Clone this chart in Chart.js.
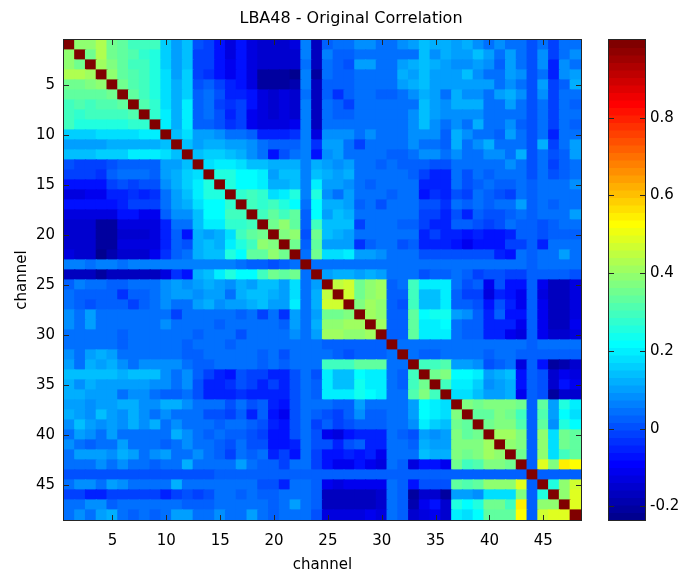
<!DOCTYPE html>
<html>
<head>
<meta charset="utf-8">
<title>LBA48 - Original Correlation</title>
<script src="https://cdn.jsdelivr.net/npm/chart.js@4.4.1/dist/chart.umd.min.js"></script>
<style>
  body { margin: 0; background: #fff; }
  #wrap { position: relative; width: 681px; height: 572px; background: #fff; }
  #wrap canvas { position: absolute; top: 0; }
</style>
</head>
<body>
<div id="wrap">
  <canvas id="heat" width="600" height="572" style="left:0"></canvas>
  <canvas id="bar" width="81" height="572" style="left:600px"></canvas>
</div>
<script>
// correlation between the 48 channels, lower triangle only (row i holds columns 1..i-1),
// the matrix is symmetric and the diagonal is 1
var corrLower = [
  [],
  [0.40],
  [0.40, 0.36],
  [0.43, 0.43, 0.42],
  [0.36, 0.36, 0.38, 0.40],
  [0.33, 0.34, 0.33, 0.34, 0.35],
  [0.30, 0.31, 0.30, 0.31, 0.32, 0.33],
  [0.29, 0.28, 0.29, 0.30, 0.30, 0.30, 0.31],
  [0.30, 0.26, 0.25, 0.26, 0.25, 0.26, 0.27, 0.28],
  [0.17, 0.17, 0.17, 0.18, 0.18, 0.18, 0.18, 0.20, 0.20],
  [0.10, 0.10, 0.10, 0.10, 0.12, 0.12, 0.12, 0.12, 0.12, 0.15],
  [0.15, 0.15, 0.15, 0.17, 0.17, 0.17, 0.20, 0.20, 0.20, 0.18, 0.15],
  [0.00, -0.02, -0.02, -0.02, 0.00, 0.03, 0.03, 0.03, 0.03, 0.10, 0.10, 0.15],
  [-0.02, -0.02, -0.02, -0.03, 0.03, 0.05, 0.05, 0.05, 0.03, 0.10, 0.12, 0.17, 0.18],
  [-0.08, -0.08, -0.08, -0.07, -0.02, 0.00, -0.02, 0.00, 0.00, 0.08, 0.12, 0.17, 0.20, 0.25],
  [-0.12, -0.12, -0.10, -0.10, -0.05, -0.05, -0.03, -0.05, -0.03, 0.05, 0.10, 0.15, 0.20, 0.25, 0.25],
  [-0.08, -0.08, -0.08, -0.08, -0.08, -0.06, -0.02, -0.02, -0.02, 0.05, 0.10, 0.13, 0.18, 0.22, 0.22, 0.28],
  [-0.13, -0.13, -0.12, -0.12, -0.12, -0.08, -0.08, -0.10, -0.10, 0.02, 0.08, 0.08, 0.15, 0.22, 0.22, 0.30, 0.30],
  [-0.15, -0.15, -0.15, -0.20, -0.20, -0.13, -0.13, -0.13, -0.13, -0.05, 0.05, 0.05, 0.15, 0.20, 0.20, 0.28, 0.28, 0.30],
  [-0.15, -0.15, -0.15, -0.20, -0.20, -0.15, -0.15, -0.15, -0.12, -0.05, 0.02, -0.08, 0.12, 0.10, 0.12, 0.18, 0.30, 0.33, 0.36],
  [-0.15, -0.15, -0.15, -0.20, -0.20, -0.13, -0.13, -0.13, -0.13, -0.05, 0.02, 0.00, 0.12, 0.14, 0.12, 0.20, 0.25, 0.30, 0.40, 0.37],
  [-0.13, -0.15, -0.15, -0.22, -0.18, -0.15, -0.15, -0.15, -0.10, -0.03, 0.03, 0.05, 0.12, 0.15, 0.15, 0.25, 0.22, 0.34, 0.34, 0.40, 0.36],
  [0.06, 0.06, 0.05, 0.06, 0.06, 0.05, 0.06, 0.06, 0.06, 0.07, 0.06, 0.06, 0.06, 0.07, 0.06, 0.06, 0.05, 0.02, 0.02, 0.00, 0.02, 0.05],
  [-0.17, -0.17, -0.17, -0.20, -0.17, -0.17, -0.17, -0.17, -0.17, -0.13, -0.03, -0.08, 0.12, 0.15, 0.20, 0.25, 0.22, 0.22, 0.30, 0.36, 0.33, 0.36, 0.05],
  [0.03, 0.07, 0.05, 0.05, 0.03, 0.03, 0.05, 0.05, 0.05, 0.08, 0.10, 0.08, 0.10, 0.12, 0.10, 0.08, 0.12, 0.10, 0.15, 0.15, 0.10, 0.18, 0.05, 0.10],
  [0.05, 0.02, 0.02, 0.02, 0.03, -0.03, 0.02, 0.03, 0.05, 0.08, 0.10, 0.10, 0.08, 0.10, 0.10, 0.05, 0.12, 0.14, 0.14, 0.12, 0.10, 0.18, 0.05, 0.12, 0.45],
  [0.05, 0.02, 0.00, 0.02, 0.02, 0.02, -0.02, 0.02, 0.05, 0.08, 0.05, 0.05, 0.10, 0.12, 0.08, 0.10, 0.10, 0.12, 0.14, 0.10, 0.10, 0.20, 0.05, 0.12, 0.47, 0.47],
  [0.08, 0.05, 0.10, 0.05, 0.05, 0.05, 0.05, 0.05, 0.05, 0.05, -0.02, 0.05, 0.05, 0.05, 0.05, 0.05, 0.03, 0.05, -0.02, 0.05, -0.03, 0.10, 0.05, 0.10, 0.35, 0.35, 0.38],
  [0.08, 0.05, 0.10, 0.05, 0.05, 0.05, 0.05, 0.05, 0.05, 0.08, 0.05, 0.05, 0.05, 0.05, 0.03, 0.05, 0.05, 0.05, 0.05, 0.05, 0.02, 0.10, 0.05, 0.12, 0.40, 0.40, 0.42, 0.42],
  [0.05, 0.05, 0.05, 0.05, 0.05, 0.03, 0.05, 0.05, 0.05, 0.05, 0.05, 0.05, 0.03, 0.05, 0.05, 0.05, 0.00, 0.05, 0.05, 0.05, 0.05, 0.08, 0.05, 0.10, 0.42, 0.42, 0.40, 0.40, 0.42],
  [0.05, 0.05, 0.05, 0.05, 0.05, 0.03, 0.05, 0.05, 0.05, 0.05, 0.05, 0.02, 0.05, 0.05, 0.05, 0.03, 0.05, 0.05, 0.05, 0.05, 0.05, 0.05, 0.05, 0.05, 0.03, 0.03, 0.03, 0.03, 0.03, 0.03],
  [0.08, 0.05, 0.10, 0.12, 0.10, 0.05, 0.05, 0.05, 0.05, 0.05, 0.05, 0.02, 0.03, 0.05, 0.05, 0.05, 0.05, 0.05, 0.02, 0.05, 0.00, 0.05, 0.05, 0.05, 0.05, 0.03, 0.00, 0.02, 0.02, 0.02, 0.05],
  [0.10, 0.05, 0.12, 0.10, 0.12, 0.08, 0.05, 0.08, 0.08, 0.08, 0.08, 0.05, 0.03, 0.03, 0.05, 0.05,
   0.05, 0.05, 0.02, 0.05, 0.02, 0.05, 0.05, 0.05, 0.30, 0.30, 0.30, 0.33, 0.33, 0.33, 0.05, 0.05],
  [0.15, 0.15, 0.15, 0.15, 0.15, 0.12, 0.15, 0.15, 0.15, 0.08, 0.05, 0.08, 0.02, -0.02, -0.05, -0.08,
   0.00, -0.02, -0.02, -0.05, -0.05, 0.00, 0.05, 0.00, 0.20, 0.15, 0.15, 0.22, 0.20, 0.20, 0.05, 0.02,
   0.30],
  [0.12, 0.08, 0.12, 0.10, 0.10, 0.10, 0.10, 0.10, 0.08, 0.08, 0.05, 0.08, 0.00, -0.05, -0.05, -0.03,
   0.00, -0.02, -0.05, -0.02, -0.05, 0.00, 0.05, 0.02, 0.20, 0.15, 0.15, 0.23, 0.20, 0.20, 0.05, 0.02,
   0.30, 0.35],
  [0.12, 0.12, 0.10, 0.10, 0.10, 0.05, 0.08, 0.08, 0.05, 0.02, 0.02, 0.05, 0.00, -0.05, -0.05, -0.05,
   -0.03, -0.05, -0.05, -0.05, -0.05, 0.00, 0.05, 0.02, 0.20, 0.20, 0.20, 0.23, 0.22, 0.20, 0.05, 0.05,
   0.32, 0.38, 0.30],
  [0.10, 0.10, 0.08, 0.10, 0.10, 0.12, 0.12, 0.08, 0.08, 0.12, 0.12, 0.08, 0.05, 0.05, 0.05, 0.00,
   0.05, 0.00, 0.02, -0.05, -0.08, 0.00, 0.05, 0.05, 0.05, 0.02, 0.02, 0.10, 0.05, 0.05, 0.05, 0.05,
   0.10, 0.22, 0.20, 0.18],
  [0.12, 0.10, 0.08, 0.15, 0.10, 0.08, 0.12, 0.08, 0.05, 0.08, 0.05, 0.05, 0.05, 0.00, 0.00, -0.02,
   0.02, -0.05, 0.02, -0.08, -0.10, 0.00, 0.05, 0.02, 0.00, -0.02, 0.02, 0.08, 0.02, 0.02, 0.05, 0.05,
   0.10, 0.22, 0.20, 0.18, 0.37],
  [0.08, 0.14, 0.10, 0.08, 0.10, 0.08, 0.12, 0.08, 0.12, 0.05, 0.08, 0.05, 0.05, 0.05, 0.02, 0.05,
   0.05, 0.02, 0.00, -0.05, -0.08, 0.00, 0.05, -0.02, 0.02, -0.02, 0.00, 0.02, 0.02, 0.02, 0.05, 0.05,
   0.08, 0.20, 0.17, 0.14, 0.35, 0.33],
  [0.05, 0.10, 0.08, 0.05, 0.10, 0.05, 0.05, 0.05, 0.05, 0.05, 0.12, 0.08, 0.05, 0.02, 0.05, 0.02,
   0.02, 0.00, -0.02, -0.08, -0.08, 0.00, 0.05, 0.00, -0.10, -0.12, -0.08, -0.05, -0.05, -0.05, 0.05, 0.02,
   0.00, 0.10, 0.08, 0.10, 0.37, 0.33, 0.35],
  [0.08, 0.05, 0.02, 0.05, 0.05, 0.10, 0.05, 0.05, 0.05, 0.02, 0.05, 0.08, 0.05, 0.05, 0.02, 0.00,
   0.05, 0.00, 0.00, -0.08, -0.08, -0.05, 0.05, 0.00, 0.00, -0.05, 0.00, 0.02, -0.05, -0.05, 0.05, 0.05,
   0.03, 0.12, 0.10, 0.10, 0.38, 0.37, 0.38, 0.42],
  [0.05, 0.10, 0.10, 0.10, 0.08, 0.12, 0.10, 0.05, 0.08, 0.10, 0.05, 0.05, 0.08, 0.05, 0.02, -0.02,
   0.05, 0.02, 0.05, -0.05, -0.02, -0.08, 0.05, -0.02, -0.08, -0.08, -0.05, -0.08, -0.05, -0.10, 0.05, 0.05,
   0.05, 0.14, 0.12, 0.12, 0.37, 0.35, 0.37, 0.41, 0.39],
  [0.05, 0.05, 0.05, 0.08, 0.05, 0.08, 0.05, 0.05, 0.02, 0.05, 0.05, 0.12, 0.05, 0.05, 0.05, 0.05,
   0.10, 0.05, 0.02, 0.02, -0.02, 0.05, 0.05, -0.02, -0.08, -0.10, -0.10, -0.08, -0.10, -0.12, 0.05, 0.03,
   -0.13, -0.08, -0.08, -0.10, 0.35, 0.29, 0.31, 0.37, 0.37, 0.35],
  [0.01, 0.01, 0.01, 0.01, 0.01, 0.01, 0.01, 0.01, 0.01, 0.01, 0.01, 0.01, 0.01, 0.01, 0.03, 0.03,
   0.03, 0.03, 0.03, 0.03, 0.03, 0.03, 0.03, 0.03, 0.03, 0.03, 0.03, 0.03, 0.03, 0.03, 0.03, 0.03,
   0.02, 0.02, 0.02, 0.02, 0.02, 0.02, 0.02, 0.02, 0.02, 0.02, 0.02],
  [0.05, 0.08, 0.08, 0.05, 0.10, 0.08, 0.05, 0.05, 0.05, 0.05, 0.12, 0.05, 0.05, 0.05, 0.05, 0.05,
   0.05, 0.05, 0.00, 0.00, -0.05, 0.05, 0.05, 0.02, -0.10, -0.12, -0.10, -0.10, -0.10, -0.10, 0.05, 0.03,
   -0.08, 0.00, 0.00, 0.00, 0.33, 0.32, 0.33, 0.40, 0.40, 0.40, 0.48, 0.03],
  [-0.02, -0.02, -0.05, -0.05, -0.02, -0.02, -0.02, -0.02, -0.02, -0.05, -0.02, 0.00, -0.02, 0.00, 0.05, 0.05,
   0.02, 0.05, 0.02, 0.02, 0.05, 0.05, 0.05, 0.02, -0.17, -0.17, -0.17, -0.17, -0.17, -0.15, 0.05, 0.03,
   -0.20, -0.15, -0.14, -0.20, 0.10, 0.10, 0.08, 0.18, 0.18, 0.18, 0.38, 0.03, 0.25],
  [0.05, 0.05, 0.08, 0.08, 0.02, 0.05, 0.05, 0.05, 0.05, 0.05, 0.05, 0.02, 0.02, 0.02, 0.05, 0.05,
   0.05, 0.05, 0.05, 0.02, 0.05, 0.10, 0.05, 0.02, -0.17, -0.17, -0.17, -0.17, -0.17, -0.14, 0.05, 0.03,
   -0.18, -0.10, -0.08, -0.15, 0.25, 0.22, 0.25, 0.35, 0.35, 0.30, 0.55, 0.03, 0.40, 0.40],
  [0.05, 0.08, 0.05, 0.10, 0.12, 0.05, 0.02, 0.05, 0.02, 0.05, 0.10, 0.10, 0.05, 0.05, 0.08, 0.05,
   0.05, 0.10, 0.05, 0.02, 0.05, 0.05, 0.05, 0.00, -0.12, -0.13, -0.12, -0.12, -0.10, -0.12, 0.05, 0.03,
   -0.15, -0.12, -0.10, -0.15, 0.20, 0.18, 0.22, 0.33, 0.33, 0.33, 0.52, 0.03, 0.46, 0.48, 0.48]
];

var channelTicks = [5, 10, 15, 20, 25, 30, 35, 40, 45];
var colorTicks = [-0.2, 0, 0.2, 0.4, 0.6, 0.8];
var colorMin = -0.235;
var colorMax = 1;
var titleText = 'LBA48 - Original Correlation';
var axisText = 'channel';

var FONT = 'DejaVu Sans';
var INK = '#262626';

function corr(r, c) {
  if (r === c) return 1;
  return c < r ? corrLower[r - 1][c - 1] : corrLower[c - 1][r - 1];
}

// matlab jet(64), value scaled between colorMin and colorMax
function jet(v) {
  var k = Math.floor((v - colorMin) / (colorMax - colorMin) * 64);
  k = Math.max(0, Math.min(63, k));
  var t = (k + 1) / 64;
  var ch = function (d) {
    return Math.round(255 * Math.max(0, Math.min(1, 1.5 - Math.abs(4 * t - d))));
  };
  return 'rgb(' + ch(3) + ',' + ch(2) + ',' + ch(1) + ')';
}

// one floating bar per cell: x = column, y = [row - 0.5, row + 0.5]
var cells = [];
var cellColors = [];
var n = corrLower.length;
for (var r = 1; r <= n; r++) {
  for (var c = 1; c <= n; c++) {
    cells.push({ x: c, y: [r - 0.5, r + 0.5] });
    cellColors.push(jet(corr(r, c)));
  }
}

// box round the plot with the small inward ticks on every side
function boxPlugin(xTicks, yTicks) {
  return {
    id: 'box',
    afterDatasetsDraw: function (chart) {
      var ctx = chart.ctx, a = chart.chartArea;
      var sx = chart.scales.x, sy = chart.scales.y;
      ctx.save();
      ctx.strokeStyle = INK;
      ctx.lineWidth = 1;
      ctx.beginPath();
      xTicks.forEach(function (v) {
        var px = Math.round(sx.getPixelForValue(v)) + 0.5;
        ctx.moveTo(px, a.bottom); ctx.lineTo(px, a.bottom - 5);
        ctx.moveTo(px, a.top); ctx.lineTo(px, a.top + 5);
      });
      yTicks.forEach(function (v) {
        var py = Math.round(sy.getPixelForValue(v)) + 0.5;
        ctx.moveTo(a.left, py); ctx.lineTo(a.left + 5, py);
        ctx.moveTo(a.right, py); ctx.lineTo(a.right - 5, py);
      });
      ctx.stroke();
      ctx.strokeRect(Math.round(a.left) - 0.5, Math.round(a.top) - 0.5,
        Math.round(a.right - a.left) + 1, Math.round(a.bottom - a.top) + 1);
      ctx.restore();
    }
  };
}

var titlePlugin = {
  id: 'topTitle',
  afterDraw: function (chart) {
    var ctx = chart.ctx;
    ctx.save();
    ctx.fillStyle = '#000';
    ctx.font = '16px "' + FONT + '"';
    ctx.textAlign = 'center';
    ctx.textBaseline = 'middle';
    ctx.fillText(titleText, 351, 19);
    ctx.restore();
  }
};

var tickFont = { family: FONT, size: 15 };

new Chart(document.getElementById('heat'), {
  type: 'bar',
  data: {
    datasets: [{
      data: cells,
      backgroundColor: cellColors,
      borderWidth: 0,
      barPercentage: 1,
      categoryPercentage: 1,
      inflateAmount: 0.6
    }]
  },
  options: {
    responsive: false,
    animation: false,
    devicePixelRatio: 1,
    layout: { padding: { left: 0, right: 19, top: 40, bottom: 0 } },
    plugins: { legend: { display: false }, tooltip: { enabled: false } },
    scales: {
      x: {
        type: 'linear', min: 0.5, max: n + 0.5, offset: false,
        grid: { display: false, drawTicks: false },
        border: { display: false },
        ticks: { color: '#000', font: tickFont, padding: 12, autoSkip: false, maxRotation: 0 },
        afterBuildTicks: function (s) { s.ticks = channelTicks.map(function (v) { return { value: v }; }); },
        afterFit: function (s) { s.height = 52; },
        title: { display: true, text: axisText, color: '#000', font: tickFont, padding: { top: 0, bottom: -2 } }
      },
      y: {
        type: 'linear', min: 0.5, max: n + 0.5, reverse: true, offset: false,
        grid: { display: false, drawTicks: false },
        border: { display: false },
        ticks: { color: '#000', font: tickFont, padding: 9, autoSkip: false },
        afterBuildTicks: function (s) { s.ticks = channelTicks.map(function (v) { return { value: v }; }); },
        afterFit: function (s) { s.width = 64; },
        title: { display: true, text: axisText, color: '#000', font: tickFont, padding: { top: 13, bottom: 0 } }
      }
    }
  },
  plugins: [boxPlugin(channelTicks, channelTicks), titlePlugin]
});

// colour bar: 64 stacked bands of the same colormap
var bands = [];
var bandColors = [];
var step = (colorMax - colorMin) / 64;
for (var k = 0; k < 64; k++) {
  var lo = colorMin + k * step;
  bands.push({ x: 0, y: [lo, lo + step] });
  bandColors.push(jet(lo + step / 2));
}

new Chart(document.getElementById('bar'), {
  type: 'bar',
  data: {
    datasets: [{
      data: bands,
      backgroundColor: bandColors,
      borderWidth: 0,
      barPercentage: 1,
      categoryPercentage: 1,
      inflateAmount: 0.6
    }]
  },
  options: {
    responsive: false,
    animation: false,
    devicePixelRatio: 1,
    layout: { padding: { left: 9, right: 0, top: 40, bottom: 52 } },
    plugins: { legend: { display: false }, tooltip: { enabled: false } },
    scales: {
      x: { type: 'linear', min: -0.5, max: 0.5, offset: false, display: false },
      y: {
        type: 'linear', position: 'right', min: colorMin, max: colorMax, offset: false,
        grid: { display: false, drawTicks: false },
        border: { display: false },
        ticks: {
          color: '#000', font: tickFont, padding: 5,
          callback: function (v) { return v === 0 ? '0' : v.toFixed(1); }
        },
        afterBuildTicks: function (s) { s.ticks = colorTicks.map(function (v) { return { value: v }; }); },
        afterFit: function (s) { s.width = 36; }
      }
    }
  },
  plugins: [boxPlugin([], colorTicks)]
});
</script>
</body>
</html>
